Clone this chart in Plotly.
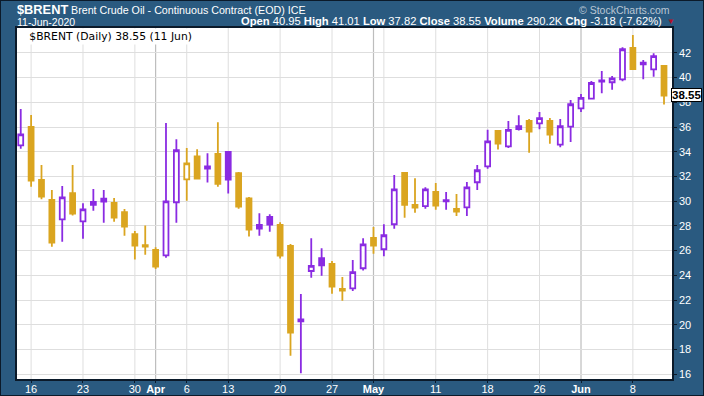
import plotly.graph_objects as go

# ---------------- data ----------------
dates = [
    "2020-03-13",
    "2020-03-16", "2020-03-17", "2020-03-18", "2020-03-19", "2020-03-20",
    "2020-03-23", "2020-03-24", "2020-03-25", "2020-03-26", "2020-03-27",
    "2020-03-30", "2020-03-31", "2020-04-01", "2020-04-02", "2020-04-03",
    "2020-04-06", "2020-04-07", "2020-04-08", "2020-04-09",
    "2020-04-13", "2020-04-14", "2020-04-15", "2020-04-16", "2020-04-17",
    "2020-04-20", "2020-04-21", "2020-04-22", "2020-04-23", "2020-04-24",
    "2020-04-27", "2020-04-28", "2020-04-29", "2020-04-30", "2020-05-01",
    "2020-05-04", "2020-05-05", "2020-05-06", "2020-05-07", "2020-05-08",
    "2020-05-11", "2020-05-12", "2020-05-13", "2020-05-14", "2020-05-15",
    "2020-05-18", "2020-05-19", "2020-05-20", "2020-05-21", "2020-05-22",
    "2020-05-26", "2020-05-27", "2020-05-28", "2020-05-29",
    "2020-06-01", "2020-06-02", "2020-06-03", "2020-06-04", "2020-06-05",
    "2020-06-08", "2020-06-09", "2020-06-10", "2020-06-11",
]
opens = [
    34.52,
    36.00, 31.71, 30.10, 28.53, 30.64,
    28.37, 29.93, 30.20, 29.85, 29.12,
    27.34, 26.45, 26.05, 25.62, 29.91,
    31.77, 33.63, 32.63, 33.82,
    33.98, 32.26, 30.23, 28.07, 28.72,
    28.07, 26.37, 20.28, 24.35, 25.38,
    24.92, 22.90, 22.95, 24.57, 27.02,
    26.11, 28.13, 32.28, 29.69, 29.59,
    30.74, 30.08, 29.37, 29.50, 31.53,
    32.82, 35.68, 34.43, 35.82, 36.49,
    36.30, 36.49, 34.57, 36.03,
    37.51, 38.29, 39.67, 39.62, 39.86,
    42.39, 41.20, 40.67, 40.95,
]
highs = [
    37.46,
    36.97, 32.93, 30.90, 31.23, 32.93,
    29.83, 30.99, 30.90, 30.26, 29.37,
    27.59, 28.02, 26.27, 36.33, 35.01,
    34.30, 34.20, 33.87, 36.38,
    33.98, 32.36, 30.34, 29.02, 28.94,
    28.29, 26.54, 22.49, 27.00, 26.19,
    25.16, 23.87, 25.24, 27.00, 27.91,
    28.13, 32.12, 32.28, 31.85, 31.12,
    31.47, 30.74, 30.58, 31.55, 32.93,
    35.78, 35.76, 36.49, 36.95, 36.65,
    37.22, 36.73, 36.65, 38.19,
    38.67, 39.72, 40.53, 40.13, 42.45,
    43.44, 41.42, 41.96, 41.01,
]
lows = [
    34.25,
    31.17, 30.15, 26.32, 26.72, 28.83,
    26.96, 29.23, 28.26, 28.34, 27.21,
    25.27, 25.67, 24.51, 25.43, 28.26,
    30.04, 31.77, 31.50, 31.17,
    30.61, 29.39, 27.13, 27.21, 27.53,
    25.35, 17.50, 16.07, 23.81, 23.97,
    22.51, 21.95, 22.73, 24.38, 25.75,
    25.54, 27.77, 28.66, 29.07, 29.39,
    29.31, 29.31, 28.80, 28.80, 30.90,
    32.63, 34.18, 34.30, 35.71, 33.92,
    35.82, 34.65, 34.36, 34.79,
    37.22, 38.24, 38.73, 39.02, 39.70,
    40.66, 39.86, 40.07, 37.82,
]
closes = [
    35.41,
    31.66, 30.36, 26.64, 30.31, 28.99,
    29.34, 29.71, 29.96, 28.66, 27.94,
    26.40, 26.32, 24.70, 29.99, 34.12,
    33.06, 31.82, 32.82, 31.41,
    31.74, 29.55, 27.69, 27.77, 28.10,
    25.59, 19.36, 20.44, 24.76, 24.80,
    23.08, 22.76, 24.25, 26.51, 26.40,
    27.24, 30.96, 29.71, 29.47, 30.96,
    29.63, 29.98, 29.15, 31.12, 32.50,
    34.84, 34.65, 35.76, 36.06, 35.62,
    36.71, 35.38, 36.06, 37.84,
    38.35, 39.56, 39.78, 39.94, 42.29,
    40.69, 41.07, 41.73, 38.55,
]
volume_text = "290.2K"

tick_dates = ["2020-03-16", "2020-03-23", "2020-03-30", "2020-04-01", "2020-04-06",
              "2020-04-13", "2020-04-20", "2020-04-27", "2020-05-01", "2020-05-11",
              "2020-05-18", "2020-05-26", "2020-06-01", "2020-06-08"]
tick_labels = ["16", "23", "30", "<b>Apr</b>", "6", "13", "20", "27", "<b>May</b>",
               "11", "18", "26", "<b>Jun</b>", "8"]
week_starts = ["2020-03-16", "2020-03-23", "2020-03-30", "2020-04-06", "2020-04-13",
               "2020-04-20", "2020-04-27", "2020-05-04", "2020-05-11", "2020-05-18",
               "2020-05-26", "2020-06-08"]
month_starts = ["2020-04-01", "2020-05-01", "2020-06-01"]
y_ticks = [16, 18, 20, 22, 24, 26, 28, 30, 32, 34, 36, 38, 40, 42]

# ---------------- styling ----------------
UP = "#8A2BE2"
DOWN = "#DAA520"
BG = "#2A5A80"
SANS = "Liberation Sans, Arial, sans-serif"

# split candles by colour (close vs previous close)
groups = {UP: ([], [], [], [], []), DOWN: ([], [], [], [], [])}
prev = None
for d, o, h, l, c in zip(dates, opens, highs, lows, closes):
    col = UP if (prev is None or c >= prev) else DOWN
    g = groups[col]
    g[0].append(d); g[1].append(o); g[2].append(h); g[3].append(l); g[4].append(c)
    prev = c

fig = go.Figure()
for col, g in groups.items():
    fig.add_trace(go.Candlestick(
        x=g[0], open=g[1], high=g[2], low=g[3], close=g[4],
        increasing=dict(line=dict(color=col, width=1.8), fillcolor="white"),
        decreasing=dict(line=dict(color=col, width=1.8), fillcolor=col),
        whiskerwidth=0, showlegend=False, hoverinfo="skip",
    ))

shapes = []
for d in week_starts:
    shapes.append(dict(type="line", xref="x", yref="paper", x0=d, x1=d, y0=0, y1=1,
                       line=dict(color="#dedede", width=1), layer="below"))
for d in month_starts:
    shapes.append(dict(type="line", xref="x", yref="paper", x0=d, x1=d, y0=0, y1=1,
                       line=dict(color="#bdbdbd", width=1.2), layer="below"))
# outer frame of the whole picture
shapes.append(dict(type="rect", xref="paper", yref="paper",
                   x0=-17 / 655, x1=687 / 655, y0=-17 / 351, y1=379 / 351,
                   line=dict(color="#0b1a2a", width=2), layer="above"))

n = len(dates)
last_o, last_h, last_l, last_c = opens[-1], highs[-1], lows[-1], closes[-1]
chg = last_c - closes[-2]
pct = chg / closes[-2] * 100

annotations = [
    dict(xref="paper", yref="paper", x=-2 / 655, y=1.079, xanchor="left", yanchor="top",
         text="<b>$BRENT</b>", showarrow=False,
         font=dict(family=SANS, size=12.8, color="white")),
    dict(xref="paper", yref="paper", x=52 / 655, y=1.075, xanchor="left", yanchor="top",
         text="Brent Crude Oil - Continuous Contract (EOD) ICE", showarrow=False,
         font=dict(family=SANS, size=10.7, color="white")),
    dict(xref="paper", yref="paper", x=655 / 655, y=1.075, xanchor="right", yanchor="top",
         text="\u00a9 StockCharts.com", showarrow=False,
         font=dict(family=SANS, size=10.5, color="#b9c6d4")),
    dict(xref="paper", yref="paper", x=-2 / 655, y=1.04, xanchor="left", yanchor="top",
         text="11-Jun-2020", showarrow=False,
         font=dict(family=SANS, size=10.5, color="white")),
    dict(xref="paper", yref="paper", x=647 / 655, y=1.042, xanchor="right", yanchor="top",
         text=(f"<b>Open</b> {last_o:.2f} <b>High</b> {last_h:.2f} <b>Low</b> {last_l:.2f} "
               f"<b>Close</b> {last_c:.2f} <b>Volume</b> {volume_text} "
               f"<b>Chg</b> {chg:.2f} ({pct:.2f}%)"),
         showarrow=False, font=dict(family=SANS, size=11.2, color="white")),
    dict(xref="paper", yref="paper", x=648 / 655, y=1.036, xanchor="left", yanchor="top",
         text="\u25bc", showarrow=False, font=dict(family=SANS, size=8, color="#b0102a")),
    dict(xref="paper", yref="paper", x=0, y=1, xanchor="left", yanchor="top",
         text=f"\u00a0\u00a0\u00a0$BRENT (Daily) {last_c:.2f} (11 Jun)\u00a0",
         showarrow=False, bgcolor="white", borderpad=1,
         font=dict(family="DejaVu Sans, Verdana, sans-serif", size=10.8, color="black")),
    dict(xref="paper", yref="y", x=1, y=last_c, xanchor="left", yanchor="middle",
         text=f"<b>{last_c:.2f}</b>", showarrow=False, bgcolor="white",
         bordercolor="black", borderwidth=1, borderpad=0, xshift=-1,
         font=dict(family=SANS, size=11.5, color="black")),
]

fig.update_layout(
    width=704, height=396,
    margin=dict(l=17, r=32, t=28, b=17, autoexpand=False),
    paper_bgcolor=BG, plot_bgcolor="white",
    boxgap=0.32,
    shapes=shapes, annotations=annotations,
    font=dict(family=SANS, size=11, color="white"),
    xaxis=dict(
        type="category", categoryorder="array", categoryarray=dates,
        range=[-0.36, n - 0.23], automargin=False,
        tickmode="array", tickvals=tick_dates, ticktext=tick_labels,
        showgrid=False, zeroline=False, rangeslider=dict(visible=False),
        ticks="outside", ticklen=2, tickcolor="#0b1a2a", ticklabelstandoff=-3,
        showline=True, linecolor="#0b1a2a", linewidth=1.5, mirror=True,
        tickfont=dict(family=SANS, size=11, color="white"),
    ),
    yaxis=dict(
        side="right", range=[15.61, 44.01], automargin=False,
        tickmode="array", tickvals=y_ticks,
        showgrid=True, gridcolor="#dedede", gridwidth=1, zeroline=False,
        ticks="outside", ticklen=3, tickcolor="#0b1a2a",
        showline=True, linecolor="#0b1a2a", linewidth=1.5, mirror=True,
        tickfont=dict(family=SANS, size=11, color="white"),
    ),
)

fig.write_html("out.html", config={"displayModeBar": False},
               post_script="document.body.style.margin='0';document.body.style.overflow='hidden';")
